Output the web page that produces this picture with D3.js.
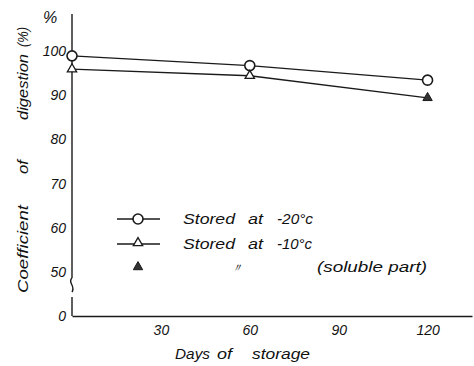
<!DOCTYPE html>
<html>
<head>
<meta charset="utf-8">
<script src="https://cdn.jsdelivr.net/npm/d3@7"></script>
<style>
  body { margin: 0; background: #fff; }
  text { font-family: "Liberation Sans", "DejaVu Sans", sans-serif; font-style: italic; fill: #111; }
</style>
</head>
<body>
<div id="chart"></div>
<script>
var width = 474,
    height = 366

// data
var days = [0, 60, 120]
var stored20 = [98.9, 96.7, 93.4]
var stored10 = [95.9, 94.4, 89.4]
var solubleDays = [120]
var soluble10 = [89.4]
var xTicks = [30, 60, 90, 120]
var yTicks = [50, 60, 70, 80, 90, 100]

var svg = d3.select("#chart")
  .append("svg")
    .attr("width", width)
    .attr("height", height)

var x = d3.scaleLinear().domain([0, 135]).range([72, 472])
var y = d3.scaleLinear().domain([50, 100]).range([272, 51])

var ink = "#1a1a1a"

// a word placed at x with a given width
function word(g, str, px, py, w, size) {
  return g.append("text")
    .attr("x", px).attr("y", py)
    .attr("textLength", w).attr("lengthAdjust", "spacingAndGlyphs")
    .style("font-size", size + "px")
    .text(str)
}

// x axis
var xAxis = svg.append("g")
  .attr("transform", "translate(0,316)")
  .call(d3.axisBottom(x).tickValues(xTicks).tickSize(0).tickPadding(9).tickSizeOuter(0))
xAxis.select(".domain").attr("stroke", ink).attr("stroke-width", 1.6)
xAxis.selectAll("text").style("font-size", "14px").attr("fill", ink)

// y axis (labels only, line drawn with the break below)
var yAxis = svg.append("g")
  .attr("transform", "translate(72,0)")
  .call(d3.axisLeft(y).tickValues(yTicks).tickSize(0).tickPadding(6))
yAxis.select(".domain").remove()
yAxis.selectAll("text").style("font-size", "14px").attr("fill", ink)

svg.append("text").attr("x", 66).attr("y", 321).attr("text-anchor", "end")
  .style("font-size", "14px").text("0")
svg.append("text").attr("x", 50).attr("y", 23).attr("text-anchor", "middle")
  .style("font-size", "16px").text("%")

// y axis line with break
svg.append("line").attr("x1", 72).attr("x2", 72).attr("y1", 14).attr("y2", 278)
  .attr("stroke", ink).attr("stroke-width", 1.4)
svg.append("path").attr("d", "M72,278 C67,282 76,286 72,292")
  .attr("fill", "none").attr("stroke", ink).attr("stroke-width", 1.4)
svg.append("line").attr("x1", 72).attr("x2", 72).attr("y1", 297).attr("y2", 316)
  .attr("stroke", ink).attr("stroke-width", 1.4)

// y title, word by word, rotated
var yt = svg.append("g").attr("transform", "translate(28,0) rotate(-90)")
word(yt, "Coefficient", -293, 0, 88, 15)
word(yt, "of", -174, 0, 14, 15)
word(yt, "digestion", -120, 0, 66, 15)
word(yt, "(%)", -47, 0, 20, 15)

// x title
word(svg, "Days", 175, 359, 35, 15)
word(svg, "of", 217, 359, 15, 15)
word(svg, "storage", 252, 359, 58, 15)

// lines
var line = d3.line()
  .x(function(d) { return x(d[0]) })
  .y(function(d) { return y(d[1]) })

var s20 = d3.zip(days, stored20)
var s10 = d3.zip(days, stored10)
var sSol = d3.zip(solubleDays, soluble10)

svg.append("path").datum(s20).attr("d", line)
  .attr("fill", "none").attr("stroke", ink).attr("stroke-width", 1.3)
svg.append("path").datum(s10).attr("d", line)
  .attr("fill", "none").attr("stroke", ink).attr("stroke-width", 1.3)

var tri = d3.symbol().type(d3.symbolTriangle).size(38)

svg.selectAll(".c20").data(s20).enter().append("circle")
  .attr("cx", function(d) { return x(d[0]) })
  .attr("cy", function(d) { return y(d[1]) })
  .attr("r", 5)
  .attr("fill", "#fff").attr("stroke", ink).attr("stroke-width", 1.6)

svg.selectAll(".t10").data(s10.slice(0, 2)).enter().append("path")
  .attr("d", tri)
  .attr("transform", function(d) { return "translate(" + x(d[0]) + "," + y(d[1]) + ")" })
  .attr("fill", "#fff").attr("stroke", ink).attr("stroke-width", 1.3)

svg.selectAll(".tsol").data(sSol).enter().append("path")
  .attr("d", tri)
  .attr("transform", function(d) { return "translate(" + x(d[0]) + "," + y(d[1]) + ")" })
  .attr("fill", "#333").attr("stroke", ink).attr("stroke-width", 1)

// legend
var lg = svg.append("g")
lg.append("line").attr("x1", 117).attr("x2", 160).attr("y1", 219).attr("y2", 219)
  .attr("stroke", ink).attr("stroke-width", 1.3)
lg.append("circle").attr("cx", 138).attr("cy", 219).attr("r", 5)
  .attr("fill", "#fff").attr("stroke", ink).attr("stroke-width", 1.6)
lg.append("line").attr("x1", 117).attr("x2", 160).attr("y1", 244).attr("y2", 244)
  .attr("stroke", ink).attr("stroke-width", 1.3)
lg.append("path").attr("d", tri).attr("transform", "translate(138,243)")
  .attr("fill", "#fff").attr("stroke", ink).attr("stroke-width", 1.3)
lg.append("path").attr("d", tri).attr("transform", "translate(138,267)")
  .attr("fill", "#333").attr("stroke", ink).attr("stroke-width", 1)

word(lg, "Stored", 183, 224, 52, 15)
word(lg, "at", 248, 224, 15, 15)
word(lg, "-20°c", 277, 224, 36, 15)
word(lg, "Stored", 183, 249, 52, 15)
word(lg, "at", 248, 249, 15, 15)
word(lg, "-10°c", 277, 249, 35, 15)
lg.append("text").attr("x", 237).attr("y", 272).attr("text-anchor", "middle")
  .style("font-size", "12px").text("〃")
word(lg, "(soluble part)", 317, 272, 110, 14)
</script>
</body>
</html>
